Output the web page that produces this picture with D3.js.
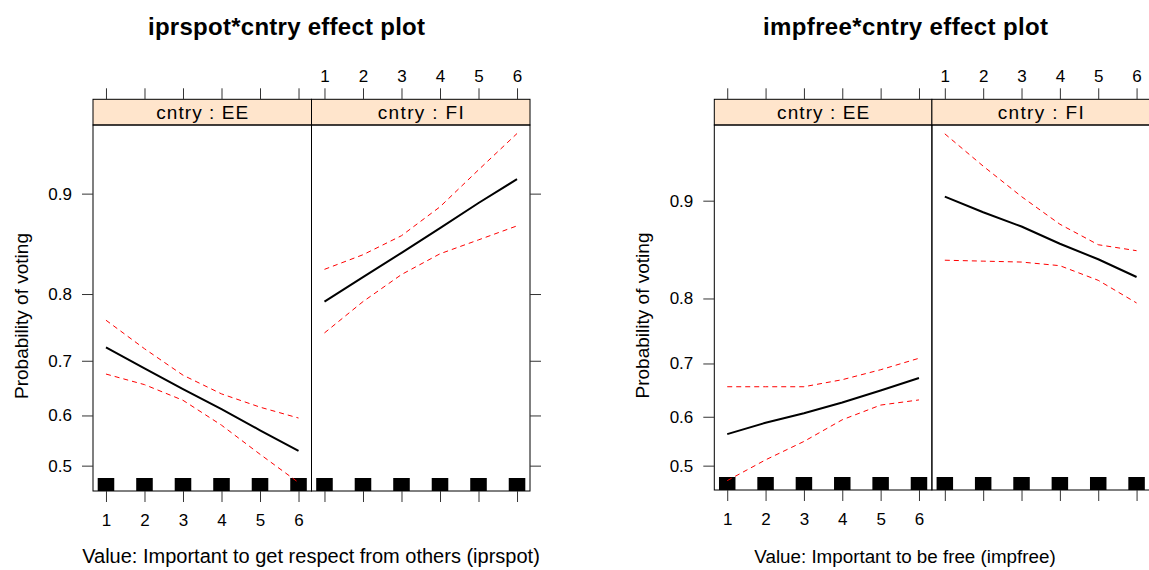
<!DOCTYPE html>
<html><head><meta charset="utf-8">
<script src="https://cdn.jsdelivr.net/npm/d3@7"></script>
<style>
body{margin:0;background:#fff;}
text{font-family:"Liberation Sans",Arial,Helvetica,sans-serif;fill:#000;}
</style></head>
<body><svg id="chart" width="1149" height="570"></svg>
<script>
// ---------- data ----------
const xValues = [1, 2, 3, 4, 5, 6];
const xTickLabels = ["1", "2", "3", "4", "5", "6"];
const yTickValues = [0.5, 0.6, 0.7, 0.8, 0.9];
const yTickLabels = ["0.5", "0.6", "0.7", "0.8", "0.9"];
const countries = ["EE", "FI"];
const rugValues = [1, 2, 3, 4, 5, 6];

// iprspot * cntry
const iprspotEEfit   = [0.722, 0.687, 0.650, 0.612, 0.571, 0.530];
const iprspotEEupper = [0.764, 0.720, 0.675, 0.641, 0.616, 0.595];
const iprspotEElower = [0.677, 0.658, 0.629, 0.581, 0.523, 0.466];
const iprspotFIfit   = [0.790, 0.821, 0.848, 0.872, 0.893, 0.910];
const iprspotFIupper = [0.830, 0.846, 0.865, 0.890, 0.916, 0.936];
const iprspotFIlower = [0.745, 0.790, 0.824, 0.847, 0.861, 0.874];

// impfree * cntry
const impfreeEEfit   = [0.565, 0.588, 0.607, 0.628, 0.651, 0.674];
const impfreeEEupper = [0.658, 0.658, 0.658, 0.671, 0.689, 0.709];
const impfreeEElower = [0.469, 0.512, 0.550, 0.594, 0.623, 0.633];
const impfreeFIfit   = [0.903, 0.891, 0.879, 0.863, 0.847, 0.827];
const impfreeFIupper = [0.940, 0.923, 0.903, 0.881, 0.862, 0.856];
const impfreeFIlower = [0.846, 0.845, 0.844, 0.840, 0.823, 0.794];

// ---------- drawing ----------
const svg = d3.select("#chart");
const logit = p => Math.log(p / (1 - p));

const plots = [
  {
    title: "iprspot*cntry effect plot",
    xlab: "Value: Important to get respect from others (iprspot)",
    panels: [
      {fit: iprspotEEfit, upper: iprspotEEupper, lower: iprspotEElower},
      {fit: iprspotFIfit, upper: iprspotFIupper, lower: iprspotFIlower}
    ],
    left: 93, panelW: 218.5, top: 125, bottom: 491, stripTop: 99.3,
    yLim: [0.449, 0.940], titleX: 286.5, titleW: 277, xlabX: 311, xlabSize: 20, ylabX: 22
  },
  {
    title: "impfree*cntry effect plot",
    xlab: "Value: Important to be free (impfree)",
    panels: [
      {fit: impfreeEEfit, upper: impfreeEEupper, lower: impfreeEElower},
      {fit: impfreeFIfit, upper: impfreeFIupper, lower: impfreeFIlower}
    ],
    left: 714.3, panelW: 217.6, top: 125, bottom: 490, stripTop: 99.3,
    yLim: [0.4497, 0.944], titleX: 905.5, titleW: 285, xlabX: 905, xlabSize: 18.8, ylabX: 643
  }
];

const pad = 0.337;
const tickCol = "#333";

plots.forEach(pl => {
  const g = svg.append("g");
  const yLin = d3.scaleLinear().domain(pl.yLim.map(logit)).range([pl.bottom, pl.top]);
  const y = p => yLin(logit(p));

  // title
  g.append("text").attr("x", pl.titleX).attr("y", 35).attr("text-anchor", "middle")
    .style("font-weight", "bold").style("font-size", "24px")
    .attr("textLength", pl.titleW).attr("lengthAdjust", "spacing").text(pl.title);
  // x label
  g.append("text").attr("x", pl.xlabX).attr("y", 563).attr("text-anchor", "middle")
    .style("font-size", pl.xlabSize + "px").text(pl.xlab);
  // y label
  g.append("text").attr("transform", `translate(${pl.ylabX + 6},${(pl.top + pl.bottom) / 2 + 8}) rotate(-90)`)
    .attr("text-anchor", "middle").style("font-size", "19px")
    .attr("textLength", 166).attr("lengthAdjust", "spacing").text("Probability of voting");

  pl.panels.forEach((pn, i) => {
    const x0 = pl.left + i * pl.panelW, x1 = x0 + pl.panelW;
    const x = d3.scaleLinear().domain([1 - pad, 6 + pad]).range([x0, x1]);

    // strip
    g.append("rect").attr("x", x0).attr("y", pl.stripTop).attr("width", pl.panelW)
      .attr("height", pl.top - pl.stripTop).attr("fill", "#ffe5cc").attr("stroke", "#000").attr("stroke-width", 1);
    g.append("text").attr("x", (x0 + x1) / 2).attr("y", (pl.stripTop + pl.top) / 2)
      .attr("dy", "0.36em").attr("text-anchor", "middle").style("font-size", "19px")
      .attr("textLength", i === 0 ? 92 : 86).attr("lengthAdjust", "spacing")
      .text("cntry : " + countries[i]);

    // rug
    const rugW = x(1.215) - x(1);
    g.append("g").selectAll("rect").data(rugValues).join("rect")
      .attr("x", d => x(d) - rugW).attr("width", 2 * rugW)
      .attr("y", pl.bottom - 13).attr("height", 13).attr("fill", "#000");

    // lines
    const line = d3.line().x((d, k) => x(xValues[k])).y(d => y(d));
    g.append("path").datum(pn.upper).attr("d", line).attr("fill", "none")
      .attr("stroke", "#ff0000").attr("stroke-width", 1).attr("stroke-dasharray", "5,4");
    g.append("path").datum(pn.lower).attr("d", line).attr("fill", "none")
      .attr("stroke", "#ff0000").attr("stroke-width", 1).attr("stroke-dasharray", "5,4");
    g.append("path").datum(pn.fit).attr("d", line).attr("fill", "none")
      .attr("stroke", "#000").attr("stroke-width", 2);

    // panel border
    g.append("rect").attr("x", x0).attr("y", pl.top).attr("width", pl.panelW)
      .attr("height", pl.bottom - pl.top).attr("fill", "none").attr("stroke", "#000").attr("stroke-width", 1);

    // top ticks
    const topAxis = d3.axisTop(x).tickValues(xValues).tickSize(11).tickPadding(6)
      .tickFormat((d, k) => i === 1 ? xTickLabels[k] : "");
    const ta = g.append("g").attr("transform", `translate(0,${pl.stripTop})`).call(topAxis);
    // bottom ticks
    const botAxis = d3.axisBottom(x).tickValues(xValues).tickSize(11).tickPadding(12)
      .tickFormat((d, k) => i === 0 ? xTickLabels[k] : "");
    const ba = g.append("g").attr("transform", `translate(0,${pl.bottom})`).call(botAxis);
    [ta, ba].forEach(a => {
      a.select(".domain").remove();
      a.selectAll("line").attr("stroke", tickCol);
      a.selectAll("text").style("font-size", "17px").attr("fill", "#000")
        .style("font-family", "'Liberation Sans',Arial,sans-serif");
    });
  });

  // y axes
  const yAxisScale = d3.scaleLinear().domain(yLin.domain()).range(yLin.range());
  const tv = yTickValues.map(logit);
  const la = g.append("g").attr("transform", `translate(${pl.left},0)`)
    .call(d3.axisLeft(yAxisScale).tickValues(tv).tickSize(11).tickPadding(10)
      .tickFormat((d, k) => yTickLabels[k]));
  const xr = pl.left + 2 * pl.panelW;
  const ra = g.append("g").attr("transform", `translate(${xr},0)`)
    .call(d3.axisRight(yAxisScale).tickValues(tv).tickSize(11).tickFormat(""));
  [la, ra].forEach(a => {
    a.select(".domain").remove();
    a.selectAll("line").attr("stroke", tickCol);
    a.selectAll("text").style("font-size", "17px").attr("fill", "#000")
      .style("font-family", "'Liberation Sans',Arial,sans-serif");
  });
});
</script></body></html>
